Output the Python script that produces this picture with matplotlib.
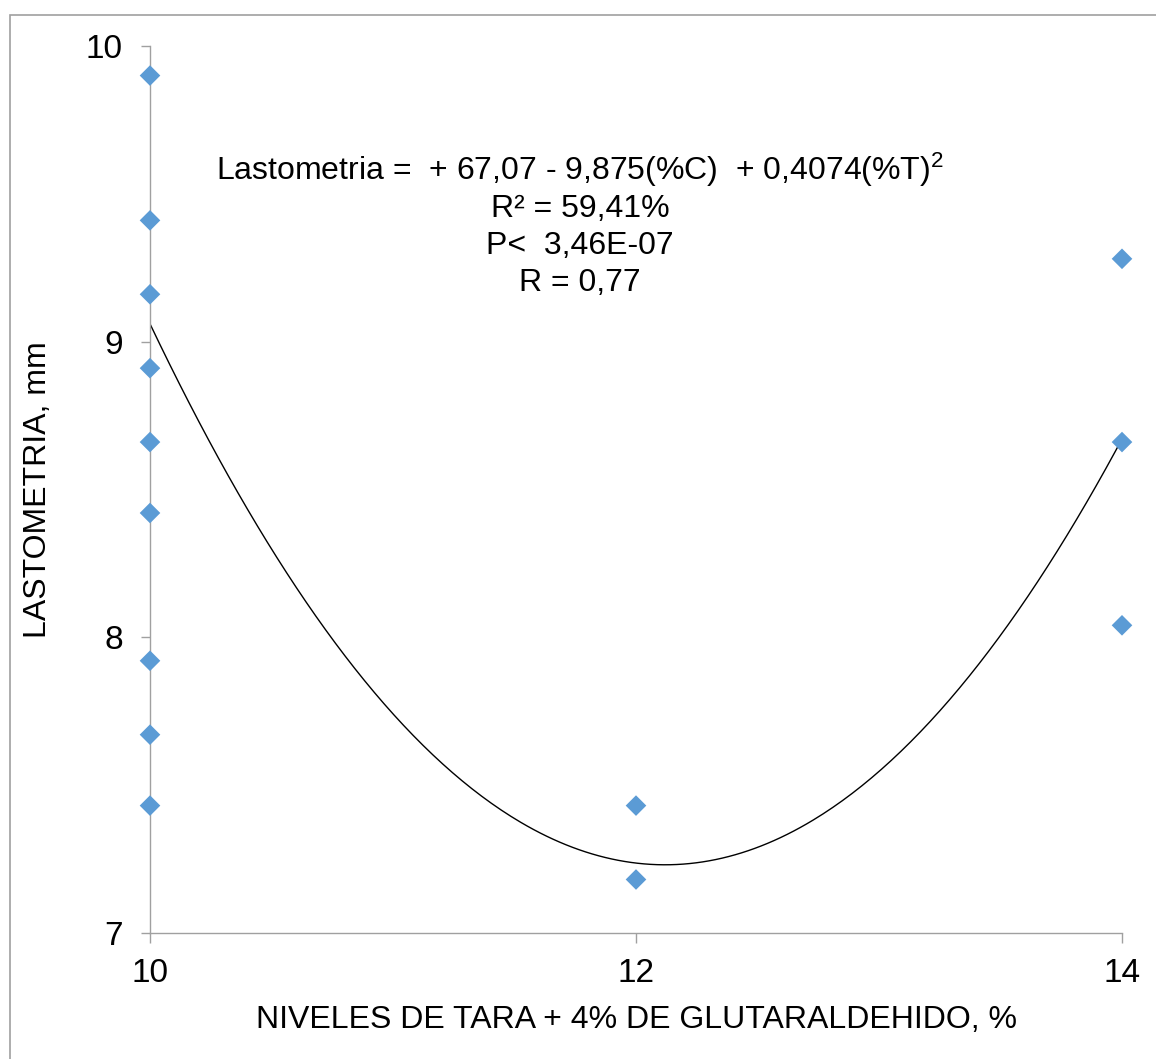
import numpy as np
import matplotlib
matplotlib.use("Agg")
import matplotlib.pyplot as plt
from matplotlib.patches import Rectangle

# ---- data ----
tara_x = [10, 10, 10, 10, 10, 10, 10, 10, 10, 12, 12, 14, 14, 14]
lastometria_y = [9.90, 9.41, 9.16, 8.91, 8.66, 8.42, 7.92, 7.67, 7.43,
                 7.43, 7.18, 9.28, 8.66, 8.04]
# quadratic trend coefficients (c0 + c1*x + c2*x^2)
coef_c0 = 67.07
coef_c1 = -9.875
coef_c2 = 0.4074
x_ticks = [10, 12, 14]
y_ticks = [7, 8, 9, 10]
eq_lines = ["Lastometria =  + 67,07 - 9,875(%C)  + 0,4074(%T)$^{2}$",
            "R² = 59,41%",
            "P<  3,46E-07",
            "R = 0,77"]
xlabel = "NIVELES DE TARA + 4% DE GLUTARALDEHIDO, %"
ylabel = "LASTOMETRIA, mm"

plt.rcParams['font.family'] = ['Liberation Sans', 'DejaVu Sans']
plt.rcParams['mathtext.fontset'] = 'custom'
plt.rcParams['mathtext.rm'] = 'Liberation Sans'
plt.rcParams['mathtext.it'] = 'Liberation Sans'

W, H = 1156, 1059
fig = plt.figure(figsize=(W / 100, H / 100), dpi=100)

# outer border (right and bottom edges fall outside the image)
fig.patches.append(Rectangle((9.5 / W, -0.5), 1.5, 1.5 - 14.5 / H, transform=fig.transFigure,
                             fill=False, edgecolor='#A0A0A0', linewidth=1.2))

ax = fig.add_axes([150 / W, (H - 932.7) / H, 972 / W, 886.7 / H])
spine_col = '#A0A0A0'
for s in ['top', 'right']:
    ax.spines[s].set_visible(False)
for s in ['left', 'bottom']:
    ax.spines[s].set_color(spine_col)
    ax.spines[s].set_linewidth(1.0)

xs = np.linspace(10, 14, 300)
ys = coef_c0 + coef_c1 * xs + coef_c2 * xs ** 2
ax.plot(xs, ys, color='black', linewidth=1.0, zorder=2)

ax.scatter(tara_x, lastometria_y, marker='D', s=10.5 ** 2, color='#5B9BD5',
           edgecolors='none', zorder=3, clip_on=False)

ax.set_xlim(10, 14)
ax.set_ylim(7, 10)
ax.set_xticks(x_ticks)
ax.set_yticks(y_ticks)
ax.set_xticklabels([str(v) for v in x_ticks])
ax.set_yticklabels([str(v) for v in y_ticks])
ax.tick_params(axis='x', direction='out', length=7, width=1.0, color=spine_col,
               labelsize=24, pad=11)
ax.tick_params(axis='y', direction='out', length=6.5, width=1.0, color=spine_col,
               labelsize=24, pad=13)

fig.text(636 / W, 1 - 1020 / H, xlabel, ha='center', va='center', fontsize=23)
fig.text(38 / W, 1 - 490 / H, ylabel, ha='center', va='center', fontsize=23,
         rotation=90)

line_y = [170, 209, 246, 283]
for txt, yy in zip(eq_lines, line_y):
    fig.text(580 / W, 1 - yy / H, txt, ha='center', va='center', fontsize=23)

fig.savefig('out.png', dpi=100)
